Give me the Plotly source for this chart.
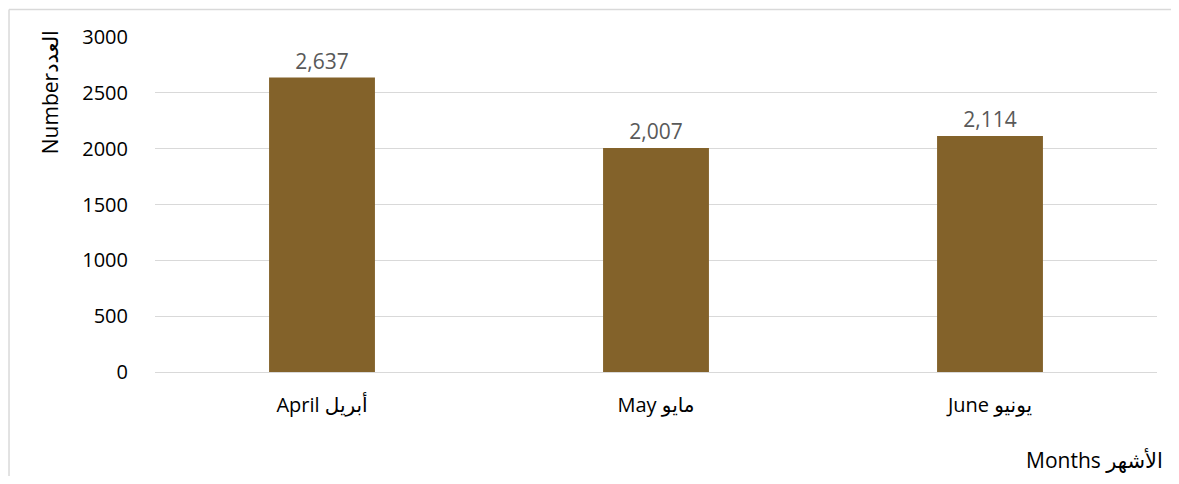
import plotly.graph_objects as go

months = ["April أبريل", "May مايو", "June يونيو"]
values = [2637, 2007, 2114]
value_labels = ["2,637", "2,007", "2,114"]
y_ticks = [0, 500, 1000, 1500, 2000, 2500, 3000]

fig = go.Figure()
fig.add_trace(go.Bar(
    x=months, y=values, text=value_labels, textposition="outside",
    textfont=dict(size=21, color="#595959"),
    marker=dict(color="#83622A", line=dict(width=0)),
    width=0.317, cliponaxis=False,
))

fig.update_layout(
    width=1163, height=468,
    margin=dict(l=147, r=14, t=29, b=104),
    paper_bgcolor="white", plot_bgcolor="white",
    font=dict(family="Open Sans, DejaVu Sans, sans-serif", size=20, color="#000000"),
    showlegend=False,
    xaxis=dict(showgrid=False, showline=True, linecolor="#d9d9d9", linewidth=1,
               ticks="", tickfont=dict(size=20, color="#000000"), ticklabelstandoff=15),
    yaxis=dict(range=[0, 3000], tickvals=y_ticks, showgrid=True, gridcolor="#d9d9d9",
               gridwidth=1, zeroline=False, showline=False, ticks="",
               tickfont=dict(size=20, color="#000000"), ticklabelstandoff=26),
    annotations=[
        dict(text="Numberالعدد", xref="paper", yref="paper", x=-0.1045, y=0.836,
             textangle=-90, showarrow=False, font=dict(size=21, color="#000000"),
             xanchor="center", yanchor="middle"),
        dict(text="Months الأشهر", xref="paper", yref="paper", x=1.008, y=-0.3095,
             showarrow=False, font=dict(size=21, color="#000000"),
             xanchor="right", yanchor="bottom"),
    ],
    shapes=[
        dict(type="line", xref="paper", yref="paper", x0=-0.1457, x1=-0.1457,
             y0=-0.32, y1=1.0821, line=dict(color="#d9d9d9", width=1.5), layer="below"),
        dict(type="line", xref="paper", yref="paper", x0=-0.1457, x1=1.0139,
             y0=1.0821, y1=1.0821, line=dict(color="#d9d9d9", width=1.5), layer="below"),
    ],
)

fig.write_html("out.html")
